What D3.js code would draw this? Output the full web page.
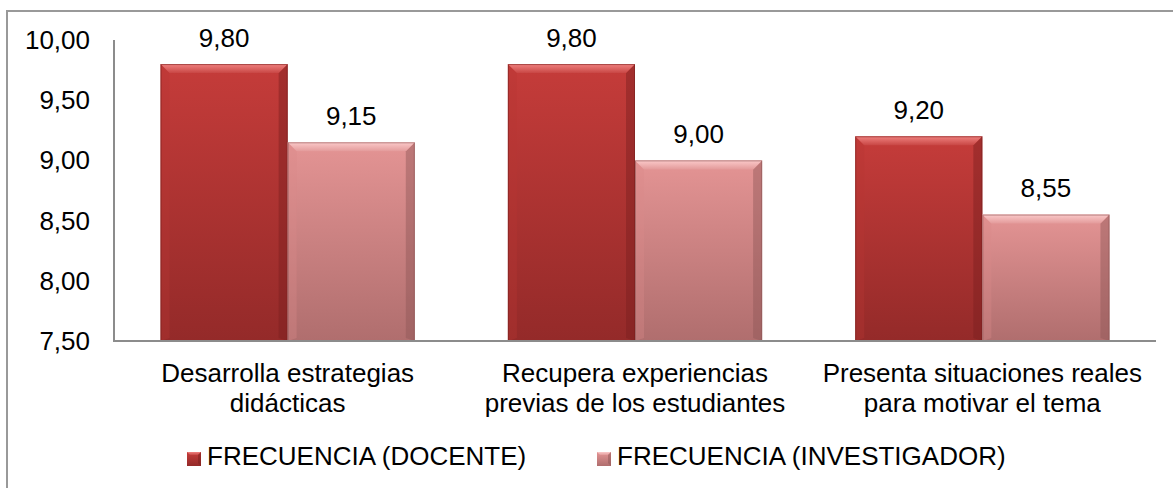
<!DOCTYPE html>
<html>
<head>
<meta charset="utf-8">
<script src="https://cdn.jsdelivr.net/npm/d3@7"></script>
<style>
  html, body { margin: 0; padding: 0; background: #fff; }
  svg { display: block; }
  text { font-family: "Liberation Sans", Arial, sans-serif; fill: #000; }
</style>
</head>
<body>
<svg id="chart" width="1173" height="488"></svg>
<script>
const categories = ["Desarrolla estrategias didácticas", "Recupera experiencias previas de los estudiantes", "Presenta situaciones reales para motivar el tema"];
const categoryLines = [["Desarrolla estrategias", "didácticas"], ["Recupera experiencias", "previas de los estudiantes"], ["Presenta situaciones reales", "para motivar el tema"]];
const seriesNames = ["FRECUENCIA (DOCENTE)", "FRECUENCIA (INVESTIGADOR)"];
const docente = [9.80, 9.80, 9.20];
const investigador = [9.15, 9.00, 8.55];
const yTicks = [7.5, 8.0, 8.5, 9.0, 9.5, 10.0];

const svg = d3.select("#chart");
const W = 1173, H = 488;
const plot = { left: 114, right: 1156, top: 40, bottom: 341 };
const FS = 26;

const fmt = v => v.toFixed(2).replace(".", ",");

const x0 = d3.scaleBand().domain(categories).range([plot.left, plot.right])
  .paddingInner(0.268).paddingOuter(0.134);
const x1 = d3.scaleBand().domain(seriesNames).range([0, x0.bandwidth()]).padding(0);
const y = d3.scaleLinear().domain([7.5, 10]).range([plot.bottom, plot.top]);

const defs = svg.append("defs");
const palettes = [
  { body: ["#c53c3a", "#942a29"], top: ["#f08280", "#c84644"], side: "#7a1f1e", left: "#b83634", bottom: "#7e2221" },
  { body: ["#e49494", "#b06e6e"], top: ["#fbcaca", "#e39a9a"], side: "#8e5656", left: "#d98a8a", bottom: "#955c5c" }
];
palettes.forEach((p, i) => {
  const g = defs.append("linearGradient").attr("id", "body" + i).attr("x1", 0).attr("y1", 0).attr("x2", 0).attr("y2", 1);
  g.append("stop").attr("offset", "0%").attr("stop-color", p.body[0]);
  g.append("stop").attr("offset", "100%").attr("stop-color", p.body[1]);
  const t = defs.append("linearGradient").attr("id", "top" + i).attr("x1", 0).attr("y1", 0).attr("x2", 0).attr("y2", 1);
  t.append("stop").attr("offset", "0%").attr("stop-color", p.top[0]);
  t.append("stop").attr("offset", "100%").attr("stop-color", p.top[1]);
});

// outer border
svg.append("rect").attr("x", 7).attr("y", 11).attr("width", W + 20).attr("height", H + 20)
  .attr("fill", "none").attr("stroke", "#999").attr("stroke-width", 2);

// y axis labels
svg.append("g").selectAll("text").data(yTicks).join("text")
  .attr("x", 90).attr("y", d => y(d) + 9)
  .attr("text-anchor", "end").attr("font-size", FS)
  .text(fmt);

// bars
const data = categories.map((c, i) => ({ cat: c, vals: [docente[i], investigador[i]] }));
const bevel = 9;
function drawBar(g, xpos, w, v, si) {
  const p = palettes[si];
  const top = y(v), bot = y(7.5), h = bot - top;
  g.append("rect").attr("x", xpos).attr("y", top).attr("width", w).attr("height", h).attr("fill", `url(#body${si})`);
  g.append("path").attr("d", `M${xpos},${top} L${xpos + bevel},${top + bevel} L${xpos + bevel},${bot - 3} L${xpos},${bot} Z`)
    .attr("fill", p.left).attr("opacity", 0.35);
  g.append("path").attr("d", `M${xpos + w},${top} L${xpos + w - bevel},${top + bevel} L${xpos + w - bevel},${bot - 3} L${xpos + w},${bot} Z`)
    .attr("fill", p.side).attr("opacity", 0.45);
  g.append("path").attr("d", `M${xpos},${top} L${xpos + w},${top} L${xpos + w - bevel},${top + bevel} L${xpos + bevel},${top + bevel} Z`)
    .attr("fill", `url(#top${si})`);
  g.append("rect").attr("x", xpos + 0.5).attr("y", top + 0.5).attr("width", w - 1).attr("height", h - 1)
    .attr("fill", "none").attr("stroke", p.side).attr("stroke-opacity", 0.6).attr("stroke-width", 1);
}
const barsG = svg.append("g");
data.forEach(d => {
  seriesNames.forEach((s, si) => {
    drawBar(barsG, x0(d.cat) + x1(s), x1.bandwidth(), d.vals[si], si);
  });
});

// axes lines
svg.append("line").attr("x1", plot.left).attr("x2", plot.left).attr("y1", plot.top).attr("y2", plot.bottom)
  .attr("stroke", "#8c8c8c").attr("stroke-width", 2);
svg.append("line").attr("x1", plot.left - 1).attr("x2", plot.right).attr("y1", plot.bottom).attr("y2", plot.bottom)
  .attr("stroke", "#8c8c8c").attr("stroke-width", 2);

// data labels
data.forEach(d => {
  seriesNames.forEach((s, si) => {
    svg.append("text")
      .attr("x", x0(d.cat) + x1(s) + x1.bandwidth() / 2)
      .attr("y", y(d.vals[si]) - 17.5)
      .attr("text-anchor", "middle").attr("font-size", FS)
      .text(fmt(d.vals[si]));
  });
});

// category labels
categories.forEach((c, i) => {
  const t = svg.append("text").attr("text-anchor", "middle").attr("font-size", FS);
  categoryLines[i].forEach((ln, li) => {
    t.append("tspan").attr("x", x0(c) + x0.bandwidth() / 2).attr("y", 382 + li * 30).text(ln);
  });
});

// legend
const legendX = [187, 597];
seriesNames.forEach((s, si) => {
  const g = svg.append("g").attr("transform", `translate(${legendX[si]},452)`);
  const m = 14, b = 3, p = palettes[si];
  g.append("rect").attr("width", m).attr("height", m).attr("fill", `url(#body${si})`);
  g.append("path").attr("d", `M0,0 L${m},0 L${m - b},${b} L${b},${b} Z`).attr("fill", `url(#top${si})`);
  g.append("path").attr("d", `M${m},0 L${m},${m} L${m - b},${m - b} L${m - b},${b} Z`).attr("fill", p.side).attr("opacity", 0.5);
  g.append("text").attr("x", 20).attr("y", 13).attr("font-size", FS).text(s);
});
</script>
</body>
</html>
